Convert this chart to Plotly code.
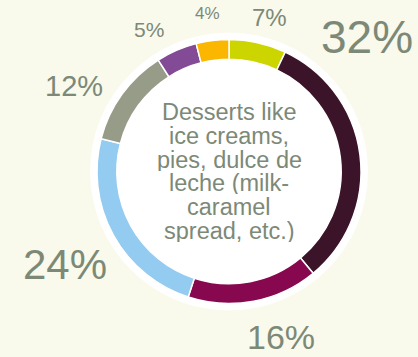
import plotly.graph_objects as go

# Share of respondents per answer, clockwise from 12 o'clock
categories = ["A", "B", "C", "D", "E", "F", "G"]
values = [7, 32, 16, 24, 12, 5, 4]
colors = ["#CCD500", "#3B142A", "#87084F", "#93CBF1", "#979C89", "#834A96", "#FBB700"]

center_lines = ["Desserts like", "ice creams,", "pies, dulce de",
                "leche (milk-", "caramel", "spread, etc.)"]

W, H = 418, 357
CX, CY, R = 229, 171.5, 132      # donut centre / outer radius (px)
R_BG = 139                        # white disc behind the ring
TEXT = "#7C8977"
FONT = "Liberation Sans, Arial, sans-serif"

# label placement: (x px, y px, font size) for each slice
label_pos = [(269, 17, 24), (367, 37, 46), (281, 337, 34), (65, 264, 42),
             (74, 86, 29), (149, 29, 21), (207, 14, 17)]

fig = go.Figure(go.Pie(
    labels=categories, values=values, sort=False, direction="clockwise",
    rotation=0, hole=0.85, textinfo="none", hoverinfo="label+percent",
    marker=dict(colors=colors, line=dict(color="white", width=1.5)),
    domain=dict(x=[(CX - R) / W, (CX + R) / W],
                y=[(H - CY - R) / H, (H - CY + R) / H]),
    showlegend=False,
))

fig.add_shape(type="circle", xref="paper", yref="paper", layer="below",
              x0=(CX - R_BG) / W, x1=(CX + R_BG) / W,
              y0=(H - CY - R_BG) / H, y1=(H - CY + R_BG) / H,
              fillcolor="white", line=dict(width=0))

for v, (x, y, s) in zip(values, label_pos):
    fig.add_annotation(text=f"{v}%", x=x / W, y=1 - y / H, xref="paper", yref="paper",
                       showarrow=False, xanchor="center", yanchor="middle",
                       font=dict(size=s, color=TEXT, family=FONT))

# centre caption, one line per annotation for a tight line spacing
line_gap = 23.8
top = 112
for i, t in enumerate(center_lines):
    fig.add_annotation(text=t, x=CX / W, y=1 - (top + i * line_gap) / H,
                       xref="paper", yref="paper", showarrow=False,
                       xanchor="center", yanchor="middle", height=22,
                       valign="middle",
                       font=dict(size=23.5, color=TEXT, family=FONT))

fig.update_layout(width=W, height=H, margin=dict(l=0, r=0, t=0, b=0),
                  paper_bgcolor="#F9F9EC", plot_bgcolor="#F9F9EC")

fig.write_html("out.html")
